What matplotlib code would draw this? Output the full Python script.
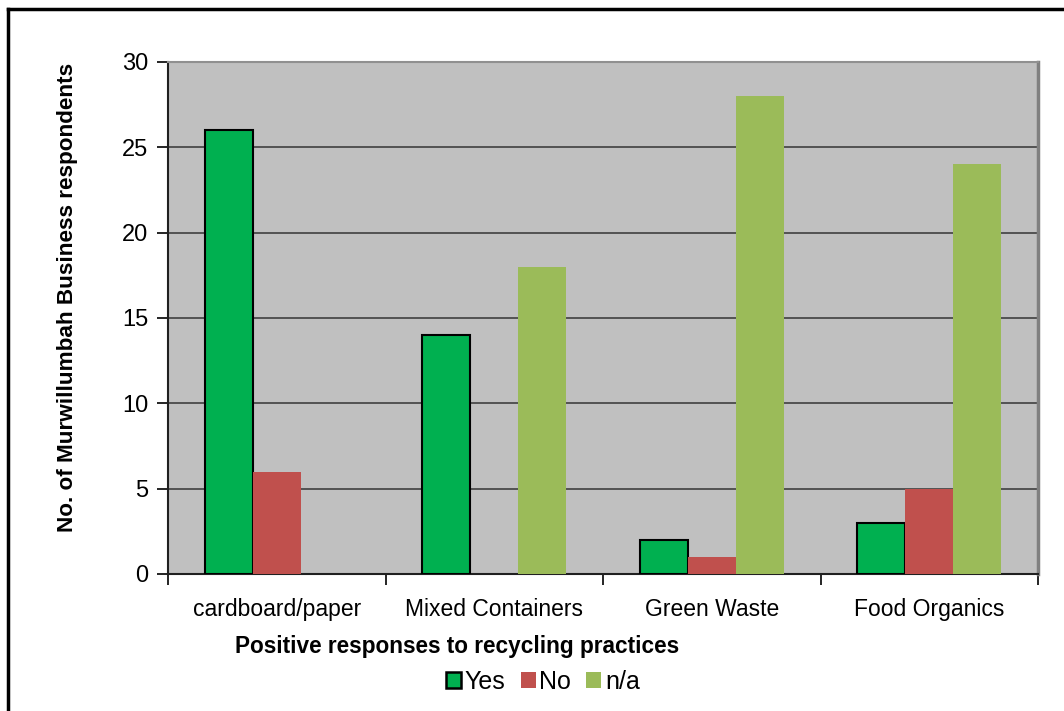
import numpy as np
import matplotlib
matplotlib.use("Agg")
from matplotlib import pyplot as plt
from matplotlib.patches import Patch
from matplotlib.lines import Line2D

categories = ["cardboard/paper", "Mixed Containers", "Green Waste", "Food Organics"]
yes_vals = [26, 14, 2, 3]
no_vals = [6, 0, 1, 5]
na_vals = [0, 18, 28, 24]
series_names = ["Yes", "No", "n/a"]
y_ticks = [0, 5, 10, 15, 20, 25, 30]

plt.rcParams["font.family"] = ["Liberation Sans", "DejaVu Sans"]

fig = plt.figure(figsize=(10.64, 7.11), dpi=100)
ax = fig.add_axes([168 / 1064, 1 - 574 / 711, (1038 - 168) / 1064, (574 - 62) / 711])

x = np.arange(len(categories))
w = 0.22
ax.bar(x - w, yes_vals, w, color="#00B050", edgecolor="black", linewidth=1.5, zorder=3)
ax.bar(x, no_vals, w, color="#C0504D", linewidth=0, zorder=3)
ax.bar(x + w, na_vals, w, color="#9BBB59", linewidth=0, zorder=3)

ax.set_facecolor("#C0C0C0")
ax.set_xlim(-0.5, len(categories) - 0.5)
ax.set_ylim(0, 30)
ax.set_yticks(y_ticks)
ax.yaxis.grid(True, color="#404040", linewidth=1.2, zorder=1)
ax.set_axisbelow(True)

# category boundary ticks on x
ax.set_xticks(np.arange(-0.5, len(categories), 1.0))
ax.set_xticklabels([])
ax.set_xticks(x, minor=True)
ax.set_xticklabels(categories, minor=True, fontsize=16.5)
ax.tick_params(axis="x", which="minor", length=0, pad=17)
ax.tick_params(axis="x", which="major", length=8, width=1.2, direction="out")
ax.tick_params(axis="y", length=8, width=1.2, labelsize=17, pad=6)

for s in ["left", "bottom"]:
    ax.spines[s].set_color("#202020")
    ax.spines[s].set_linewidth(1.5)
ax.spines["top"].set_color("#909090")
ax.spines["top"].set_linewidth(1.5)
ax.spines["right"].set_color("#808080")
ax.spines["right"].set_linewidth(2.5)

ax.set_ylabel("No. of Murwillumbah Business respondents", fontsize=16.2,
              fontweight="bold")
ax.yaxis.set_label_coords(78 / 1064, (711 - 297) / 711, transform=fig.transFigure)
fig.text(457 / 1064, 1 - 647 / 711, "Positive responses to recycling practices",
         ha="center", va="center", fontsize=16.3, fontweight="bold")

handles = [Patch(facecolor="#00B050", edgecolor="black", linewidth=1.8),
           Patch(facecolor="#C0504D", linewidth=0),
           Patch(facecolor="#9BBB59", linewidth=0)]
fig.legend(handles, series_names, loc="center", bbox_to_anchor=(543 / 1064, 1 - 682 / 711),
           ncol=3, frameon=False, fontsize=18, handlelength=0.6, handleheight=0.6,
           handletextpad=0.15, columnspacing=0.6)

# outer frame (top and left edges visible)
fig.add_artist(Line2D([8 / 1064, 1.0], [1 - 9 / 711, 1 - 9 / 711], color="black", linewidth=2.5,
                      transform=fig.transFigure))
fig.add_artist(Line2D([8 / 1064, 8 / 1064], [0.0, 1 - 9 / 711], color="black", linewidth=2.5,
                      transform=fig.transFigure))

fig.savefig("out.png", dpi=100)
